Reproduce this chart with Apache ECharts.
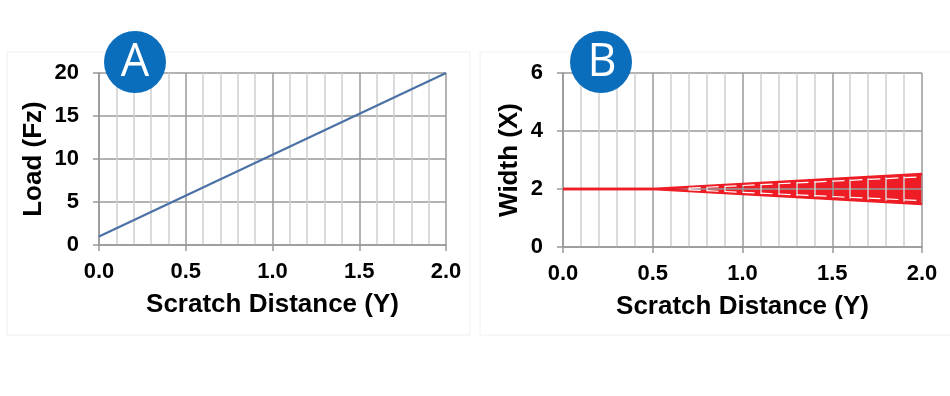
<!DOCTYPE html>
<html>
<head>
<meta charset="utf-8">
<script src="https://cdn.jsdelivr.net/npm/echarts@6/dist/echarts.min.js"></script>
<style>html,body{margin:0;padding:0;background:#fff;}#c{width:950px;height:396px;}</style>
</head>
<body>
<div id="c"></div>
<script>
// Panel A: load vs scratch distance
const loadX = [0.0, 2.0];
const loadY = [1, 20];
// Panel B: scratch width envelope
const widthX = [0.0, 0.5, 2.0];
const widthUpper = [2.0, 2.0, 2.52];
const widthLower = [2.0, 2.0, 1.48];
const innerX = [0.7, 2.0];
const innerUpper = [2.03, 2.42];
const innerLower = [1.97, 1.6];
const yTicksA = [0, 5, 10, 15, 20];
const yTicksB = [0, 2, 4, 6];
const panelLabels = ['A', 'B'];

const chart = echarts.init(document.getElementById('c'));
const FONT = '"Liberation Sans", Arial, sans-serif';
const pairs = (xs, ys) => xs.map((x, i) => [x, ys[i]]);

function xAxisCfg(grid, gap, margin, z) {
  return {
    type: 'value', gridIndex: grid, min: 0, max: 2, interval: 0.5, z: z,
    name: 'Scratch Distance (Y)', nameLocation: 'middle', nameGap: gap,
    nameTextStyle: { fontFamily: FONT, fontWeight: 'bold', fontSize: 26, color: '#000' },
    axisLine: { show: true, lineStyle: { color: '#999', width: 1.5 } },
    axisTick: { show: true, length: 6, lineStyle: { color: '#999', width: 1.5 } },
    axisLabel: { margin: margin, fontFamily: FONT, fontWeight: 'bold', fontSize: 22, color: '#000',
      formatter: v => v.toFixed(1) },
    splitLine: { show: true, lineStyle: { color: '#9a9a9a', width: 1.5 } },
    minorTick: { show: false, splitNumber: 5 },
    minorSplitLine: { show: true, lineStyle: { color: '#cfcfcf', width: 1.5 } }
  };
}
function yAxisCfg(grid, name, max, interval, gap, z) {
  return {
    type: 'value', gridIndex: grid, min: 0, max: max, interval: interval, z: z,
    name: name, nameLocation: 'middle', nameGap: gap, nameRotate: 90,
    nameTextStyle: { fontFamily: FONT, fontWeight: 'bold', fontSize: 26, color: '#000' },
    axisLine: { show: true, lineStyle: { color: '#999', width: 1.5 } },
    axisTick: { show: true, length: 6, lineStyle: { color: '#999', width: 1.5 } },
    axisLabel: { margin: 20, fontFamily: FONT, fontWeight: 'bold', fontSize: 22, color: '#000' },
    splitLine: { show: true, lineStyle: { color: '#9a9a9a', width: 1.5 } }
  };
}

const option = {
  animation: false,
  backgroundColor: '#fff',
  grid: [
    { left: 99, right: 504, top: 73, bottom: 151 },
    { left: 563, right: 28, top: 73, bottom: 149 }
  ],
  xAxis: [xAxisCfg(0, 47, 16, 0), xAxisCfg(1, 47, 16, 5)],
  yAxis: [yAxisCfg(0, 'Load (Fz)', yTicksA[yTicksA.length - 1], yTicksA[1] - yTicksA[0], 52, 0),
          yAxisCfg(1, 'Width (X)', yTicksB[yTicksB.length - 1], yTicksB[1] - yTicksB[0], 40, 5)],
  series: [
    { type: 'line', xAxisIndex: 0, yAxisIndex: 0, data: pairs(loadX, loadY), symbol: 'none',
      lineStyle: { color: '#4a71a6', width: 2.2 }, z: 3 },
    // red band between lower and upper envelope
    { type: 'custom', xAxisIndex: 1, yAxisIndex: 1, z: 1,
      data: widthX.map((x, i) => [x, widthLower[i], widthUpper[i]]),
      encode: { x: 0, y: [1, 2] },
      renderItem: function (params, api) {
        if (params.dataIndex !== 0) return null;
        const up = widthX.map((x, i) => api.coord([x, widthUpper[i]]));
        const lo = widthX.map((x, i) => api.coord([x, widthLower[i]])).reverse();
        return { type: 'polygon', shape: { points: up.concat(lo) },
          style: { fill: '#ee1c25', stroke: '#ee1c25', lineWidth: 1 } };
      } },
    { type: 'line', xAxisIndex: 1, yAxisIndex: 1, data: pairs(widthX, widthUpper), symbol: 'none',
      lineStyle: { color: '#ee1c25', width: 2.5 }, z: 6 },
    { type: 'line', xAxisIndex: 1, yAxisIndex: 1, data: pairs(widthX, widthLower), symbol: 'none',
      lineStyle: { color: '#ee1c25', width: 2.5 }, z: 6 },
    { type: 'line', xAxisIndex: 1, yAxisIndex: 1, data: pairs(innerX, innerUpper), symbol: 'none',
      lineStyle: { color: '#fff', width: 1.2, type: [12, 6] }, z: 6 },
    { type: 'line', xAxisIndex: 1, yAxisIndex: 1, data: pairs(innerX, innerLower), symbol: 'none',
      lineStyle: { color: '#fff', width: 1.2, type: [12, 6] }, z: 6 }
  ],
  graphic: [
    { type: 'rect', shape: { x: 7, y: 52, width: 463, height: 283 }, silent: true, z: -10,
      style: { fill: 'none', stroke: '#eeeeee', lineWidth: 1 } },
    { type: 'rect', shape: { x: 480, y: 52, width: 480, height: 283 }, silent: true, z: -10,
      style: { fill: 'none', stroke: '#f0f0f0', lineWidth: 1 } },
    { type: 'circle', shape: { cx: 135, cy: 62, r: 31 }, z: 100, style: { fill: '#0a6ebd' } },
    { type: 'text', x: 135, y: 63, z: 101, style: { text: panelLabels[0], fill: '#fff',
      font: '45px "Open Sans", sans-serif', align: 'center', verticalAlign: 'middle' } },
    { type: 'circle', shape: { cx: 601, cy: 62, r: 31 }, z: 100, style: { fill: '#0a6ebd' } },
    { type: 'text', x: 602, y: 63, z: 101, style: { text: panelLabels[1], fill: '#fff',
      font: '45px "Open Sans", sans-serif', align: 'center', verticalAlign: 'middle' } }
  ]
};
chart.setOption(option);
</script>
</body>
</html>
